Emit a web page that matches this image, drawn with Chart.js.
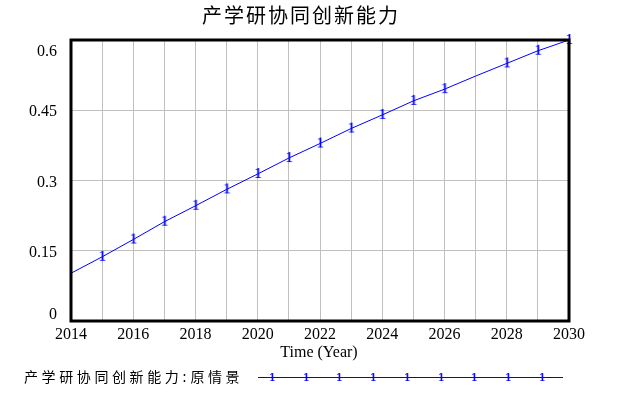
<!DOCTYPE html>
<html>
<head>
<meta charset="utf-8">
<script src="https://cdn.jsdelivr.net/npm/chart.js@4.4.1/dist/chart.umd.min.js"></script>
<style>
  html, body { margin: 0; padding: 0; background: #fff; }
</style>
</head>
<body>
<canvas id="chart" width="635" height="396"></canvas>
<script>
// 数据
const years = [2014, 2015, 2016, 2017, 2018, 2019, 2020, 2021, 2022, 2023, 2024, 2025, 2026, 2027, 2028, 2029, 2030];
const capability = [0.102, 0.137, 0.174, 0.212, 0.246, 0.281, 0.314, 0.348, 0.379, 0.411, 0.440, 0.470, 0.495, 0.523, 0.550, 0.577, 0.600];
const markerYears = [2015, 2016, 2017, 2018, 2019, 2020, 2021, 2022, 2023, 2024, 2025, 2026, 2028, 2029, 2030];
const yTicks = [0, 0.15, 0.3, 0.45, 0.6];
const yTickLabels = ['0', '0.15', '0.3', '0.45', '0.6'];
const chartTitle = '产学研协同创新能力';
const xTitle = 'Time (Year)';
const legendName = '产学研协同创新能力';
const legendRun = '原情景';

const BLUE = '#0000ff';
const serif = '"Liberation Serif", "DejaVu Serif", serif';
const cjk = '"Noto Sans CJK SC", "Noto Sans", sans-serif';

// "1" 标记
function makeMarker(size) {
  const c = document.createElement('canvas');
  c.width = 10;
  c.height = 16;
  const m = c.getContext('2d');
  m.fillStyle = BLUE;
  m.font = size + 'px ' + serif;
  m.textAlign = 'center';
  m.textBaseline = 'middle';
  m.fillText('1', 5, 8.5);
  m.fillText('1', 5.5, 8.5);
  return c;
}
const marker = makeMarker(15);
const legendMarker = makeMarker(13);

const decor = {
  id: 'decor',
  afterDraw(chart) {
    const ctx = chart.ctx;
    const a = chart.chartArea;
    const y = chart.scales.y;
    ctx.save();

    // 边框
    ctx.strokeStyle = '#000';
    ctx.lineWidth = 3;
    ctx.strokeRect(a.left, a.top, a.right - a.left, a.bottom - a.top);

    // 标题
    ctx.fillStyle = '#000';
    ctx.font = '20px ' + cjk;
    ctx.textAlign = 'center';
    ctx.textBaseline = 'middle';
    ctx.letterSpacing = '2px';
    ctx.fillText(chartTitle, 301, 15);
    ctx.letterSpacing = '0px';

    // y 轴刻度
    ctx.font = '16px ' + serif;
    ctx.textAlign = 'right';
    yTicks.forEach((v, i) => {
      let py = y.getPixelForValue(v) + 2;
      if (i === 0) py -= 8;
      if (i === yTicks.length - 1) py += 10;
      ctx.fillText(yTickLabels[i], 57, py);
    });

    // x 轴标题
    ctx.textAlign = 'center';
    ctx.fillText(xTitle, 319, 353);

    // 图例
    ctx.font = '14px ' + cjk;
    ctx.textAlign = 'left';
    let x = 24;
    for (const ch of legendName) { ctx.fillText(ch, x, 377); x += 17.6; }
    ctx.fillText(':', x, 377);
    x += 8;
    for (const ch of legendRun) { ctx.fillText(ch, x, 377); x += 17.6; }

    ctx.strokeStyle = BLUE;
    ctx.lineWidth = 1;
    ctx.beginPath();
    ctx.moveTo(258, 377.5);
    ctx.lineTo(563, 377.5);
    ctx.stroke();
    for (let i = 0; i < 9; i++) {
      const mx = 272 + i * 33.7;
      ctx.drawImage(legendMarker, Math.round(mx - 5), 369);
    }
    ctx.restore();
  }
};

new Chart(document.getElementById('chart'), {
  type: 'line',
  data: {
    datasets: [{
      label: legendName,
      data: years.map((yr, i) => ({ x: yr, y: capability[i] })),
      borderColor: BLUE,
      borderWidth: 1,
      tension: 0,
      fill: false,
      clip: false,
      pointStyle: marker,
      pointRadius: ctx => markerYears.includes(years[ctx.dataIndex]) ? 4 : 0,
      pointHoverRadius: 0
    }]
  },
  options: {
    responsive: false,
    animation: false,
    devicePixelRatio: 1,
    layout: { padding: { left: 0, right: 66, top: 40, bottom: 0 } },
    plugins: {
      legend: { display: false },
      title: { display: false },
      tooltip: { enabled: false }
    },
    scales: {
      x: {
        type: 'linear',
        min: 2014,
        max: 2030,
        afterFit: s => { s.height = 75; },
        border: { display: false },
        grid: { color: '#c0c0c0', lineWidth: 1, drawTicks: false },
        ticks: {
          stepSize: 1,
          autoSkip: false,
          maxRotation: 0,
          padding: 4,
          color: '#000',
          font: { family: serif, size: 16 },
          callback: v => (v % 2 === 0 ? String(v) : '')
        }
      },
      y: {
        min: 0,
        max: 0.6,
        afterFit: s => { s.width = 71; },
        border: { display: false },
        grid: { color: '#c0c0c0', lineWidth: 1, drawTicks: false },
        ticks: {
          stepSize: 0.15,
          callback: () => ''
        }
      }
    }
  },
  plugins: [decor]
});
</script>
</body>
</html>
